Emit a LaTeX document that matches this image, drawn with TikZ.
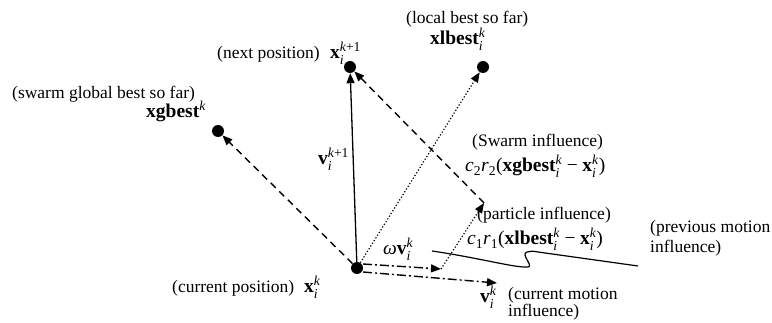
\documentclass[tikz,border=0pt]{standalone}
\usepackage{amsmath}
\usepackage{fontspec}
\setmainfont{Liberation Serif}
\usetikzlibrary{arrows.meta}
\newcommand{\vb}[1]{\textbf{#1}}
\newcommand{\iv}[1]{\textit{#1}}
\newcommand{\mns}{\mathbin{\textrm{−}}}
\begin{document}
\begin{tikzpicture}[x=1pt,y=-1pt,
  dotnode/.style={circle, fill, inner sep=0pt, minimum size=12pt},
  lbl/.style={anchor=base west, inner sep=0pt, font=\fontsize{17.5}{20}\selectfont},
  mlbl/.style={anchor=base west, inner sep=0pt, font=\fontsize{19.5}{22}\selectfont},
  tipped/.style={-{Triangle[length=10pt,width=8pt]}},
  solidarrow/.style={tipped, line width=1.3pt},
  dasharrow/.style={tipped, line width=1.4pt, dash pattern=on 7pt off 5pt},
  dotarrow/.style={tipped, line width=1.2pt, dash pattern=on 1.2pt off 2pt},
  dasharrowb/.style={tipped, line width=1.4pt, dash pattern=on 9pt off 3pt on 2pt off 3pt},
  wavy/.style={line width=1.2pt}]
\useasboundingbox (0,0) rectangle (772,323);
% points
\node[dotnode] (C) at (357,268) {};
\node[dotnode] (N) at (350,67) {};
\node[dotnode] (L) at (483,67) {};
\node[dotnode] (G) at (218,131) {};
\coordinate (A) at (441,269);
\coordinate (P) at (484,203);
\coordinate (Ws) at (363,264);
\coordinate (Vs) at (363,272);
\coordinate (V) at (497,283);
\coordinate (W1) at (432,251);
\coordinate (W2) at (638,266);
% connectors
\draw[solidarrow] (C) -- (N);
\draw[dasharrow] (C) -- (G);
\draw[dotarrow] (C) -- (L);
\draw[dasharrowb] (Ws) -- (A);
\draw[dasharrowb] (Vs) -- (V);
\draw[dotarrow] (A) -- (P);
\draw[dasharrow] (P) -- (N);
\draw[wavy] (W1) .. controls (480,258) and (515,268) .. (528,267)
  .. controls (534,266) and (520,254) .. (527,252)
  .. controls (530,251) and (533,251) .. (538,252) -- (W2);
% labels
\node[lbl] (tn) at (217,59) {(next position)};
\node[mlbl] (xn) at (330,59) {$\vb{x}_{\iv{i}}^{\iv{k}\textrm{+1}}$};
\node[lbl] (tg) at (12,99) {(swarm global best so far)};
\node[mlbl] (xg) at (146,118) {$\vb{xgbest}^{\iv{k}}$};
\node[lbl] (tl) at (406,24) {(local best so far)};
\node[mlbl] (xl) at (430,45) {$\vb{xlbest}_{\iv{i}}^{\iv{k}}$};
\node[mlbl] (vn) at (318,165) {$\vb{v}_{\iv{i}}^{\iv{k}\textrm{+1}}$};
\node[lbl] (ts) at (472,147) {(Swarm influence)};
\node[mlbl] (cs) at (465,172) {$\iv{c}_{\textrm{2}}\iv{r}_{\textrm{2}}\textrm{(}\vb{xgbest}_{\iv{i}}^{\iv{k}}\mns\vb{x}_{\iv{i}}^{\iv{k}}\textrm{)}$};
\node[lbl] (tp) at (477,220) {(particle influence)};
\node[mlbl] (cp) at (467,245) {$\iv{c}_{\textrm{1}}\iv{r}_{\textrm{1}}\textrm{(}\vb{xlbest}_{\iv{i}}^{\iv{k}}\mns\vb{x}_{\iv{i}}^{\iv{k}}\textrm{)}$};
\node[lbl] (tm) at (650,233) {(previous motion};
\node[lbl] (tm2) at (650,253) {influence)};
\node[mlbl] (w) at (383,255) {$\iv{ω}\vb{v}_{\iv{i}}^{\iv{k}}$};
\node[lbl] (tc) at (172,293) {(current position)};
\node[mlbl] (xc) at (304,293) {$\vb{x}_{\iv{i}}^{\iv{k}}$};
\node[mlbl] (vc) at (480,303) {$\vb{v}_{\iv{i}}^{\iv{k}}$};
\node[lbl] (tcm) at (508,300) {(current motion};
\node[lbl] (tcm2) at (508,317) {influence)};
\end{tikzpicture}
\end{document}
